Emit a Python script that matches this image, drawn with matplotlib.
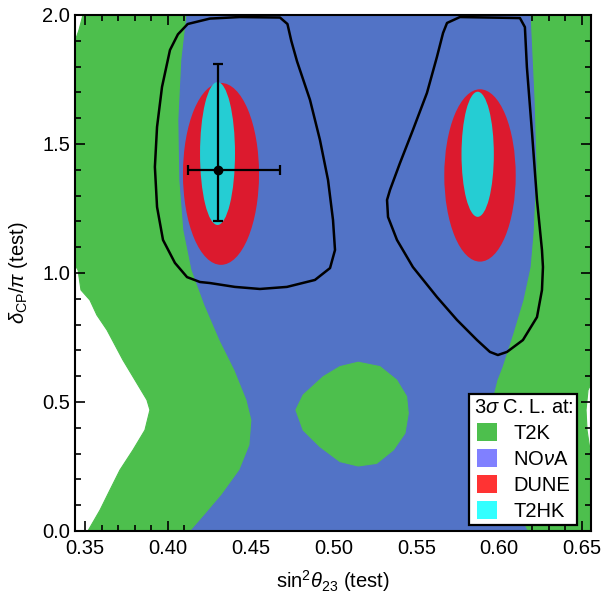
import matplotlib
matplotlib.use('Agg')
import matplotlib.pyplot as plt
from matplotlib.patches import Polygon, Ellipse, Patch
from matplotlib.ticker import MultipleLocator

plt.rcParams['font.family'] = ['Liberation Sans', 'DejaVu Sans']
plt.rcParams['mathtext.fontset'] = 'custom'
plt.rcParams['mathtext.rm'] = 'Liberation Sans'
plt.rcParams['mathtext.it'] = 'Liberation Sans:italic'

# T2K region (left edge curve, the right side runs off the axes)
t2k_x = [0.3488, 0.3464, 0.3430, 0.3430, 0.3458, 0.3476, 0.3530, 0.3572, 0.3633, 0.3729,
         0.3802, 0.3874, 0.3892, 0.3862, 0.3790, 0.3711, 0.3651, 0.3591, 0.3518,
         0.6600, 0.6600, 0.6548, 0.6530, 0.6524, 0.6536, 0.6600, 0.6600]
t2k_y = [2.000, 1.942, 1.880, 1.040, 1.012, 0.934, 0.895, 0.837, 0.779, 0.663,
         0.585, 0.508, 0.469, 0.391, 0.314, 0.236, 0.159, 0.081, 0.000,
         0.000, 0.275, 0.314, 0.391, 0.469, 0.546, 0.632, 2.000]

# NOvA region
nova_x = [0.4116, 0.4085, 0.4067, 0.4073, 0.4097, 0.4146, 0.4224, 0.4315, 0.4405, 0.4478,
          0.4508, 0.4496, 0.4435, 0.4327, 0.4224, 0.4140,
          0.6168, 0.6077, 0.5992, 0.5956, 0.5986, 0.6017, 0.6083, 0.6143, 0.6186, 0.6204,
          0.6222, 0.6210, 0.6186]
nova_y = [2.000, 1.826, 1.593, 1.360, 1.167, 1.012, 0.876, 0.740, 0.624, 0.508,
          0.430, 0.333, 0.236, 0.140, 0.062, 0.000,
          0.000, 0.120, 0.314, 0.508, 0.585, 0.636, 0.767, 0.895, 1.023, 1.155,
          1.411, 1.671, 2.000]

# T2K island inside the NOvA region
island_x = [0.5149, 0.5280, 0.5381, 0.5441, 0.5451, 0.5431, 0.5361, 0.5260, 0.5149, 0.5039,
            0.4918, 0.4817, 0.4773, 0.4817, 0.4938, 0.5039]
island_y = [0.654, 0.637, 0.585, 0.521, 0.456, 0.379, 0.314, 0.262, 0.252, 0.269,
            0.327, 0.391, 0.469, 0.527, 0.598, 0.637]

# DUNE and T2HK allowed islands (centre, width, height)
dune_cx = [0.4321, 0.5884]
dune_cy = [1.384, 1.378]
dune_w = [0.0459, 0.0431]
dune_h = [0.705, 0.668]
t2hk_cx = [0.4300, 0.5870]
t2hk_cy = [1.463, 1.460]
t2hk_w = [0.0211, 0.0195]
t2hk_h = [0.554, 0.485]

# black contours
left_x = [0.4677, 0.4722, 0.4745, 0.4780, 0.4858, 0.4918, 0.4967, 0.4997, 0.5009, 0.4979,
          0.4888, 0.4719, 0.4556, 0.4405, 0.4254, 0.4194, 0.4116, 0.4043, 0.3971, 0.3935,
          0.3922, 0.3935, 0.3965, 0.4013, 0.4061, 0.4120, 0.4254, 0.4435]
left_y = [1.990, 1.965, 1.900, 1.820, 1.671, 1.516, 1.360, 1.205, 1.089, 1.019,
          0.973, 0.946, 0.938, 0.946, 0.961, 0.965, 0.984, 1.039, 1.128, 1.256,
          1.411, 1.566, 1.721, 1.864, 1.925, 1.965, 1.986, 1.992]
right_x = [0.5685, 0.5763, 0.6125, 0.6155, 0.6167, 0.6198, 0.6228, 0.6258, 0.6264, 0.6258,
           0.6228, 0.6143, 0.6047, 0.5992, 0.5944, 0.5866, 0.5745, 0.5624, 0.5479, 0.5383,
           0.5329, 0.5323, 0.5341, 0.5401, 0.5479, 0.5564, 0.5624, 0.5661]
right_y = [1.969, 1.992, 1.988, 1.953, 1.798, 1.543, 1.283, 1.089, 1.023, 0.934,
           0.829, 0.740, 0.694, 0.682, 0.694, 0.740, 0.818, 0.907, 1.023, 1.128,
           1.217, 1.283, 1.322, 1.426, 1.554, 1.698, 1.837, 1.930]

# true point with errors
true_x, true_y = 0.430, 1.40
xerr = [[0.018], [0.038]]
yerr = [[0.20], [0.41]]

c_green = '#4dbf4d'
c_blue = '#5273c6'
c_red = '#dc1a2e'
c_cyan = '#25cdd3'

fig = plt.figure(figsize=(6.04, 5.94), dpi=100)
ax = fig.add_axes([0.1242, 0.1061, 0.8543, 0.8687])

def region(xs, ys, color, z):
    ax.add_patch(Polygon(list(zip(xs, ys)), closed=True, fc=color, ec=color,
                         lw=0.8, joinstyle='round', zorder=z))

region(t2k_x, t2k_y, c_green, 1)
region(nova_x, nova_y, c_blue, 2)
region(island_x, island_y, c_green, 3)
for cx, cy, w, h in zip(dune_cx, dune_cy, dune_w, dune_h):
    ax.add_patch(Ellipse((cx, cy), w, h, fc=c_red, ec='none', zorder=4))
for cx, cy, w, h in zip(t2hk_cx, t2hk_cy, t2hk_w, t2hk_h):
    ax.add_patch(Ellipse((cx, cy), w, h, fc=c_cyan, ec='none', zorder=5))

ax.fill(left_x, left_y, fill=False, ec='black', lw=1.8, joinstyle='round', zorder=6)
ax.fill(right_x, right_y, fill=False, ec='black', lw=1.8, joinstyle='round', zorder=6)

ax.errorbar([true_x], [true_y], xerr=xerr, yerr=yerr, fmt='o', color='black', ms=6,
            elinewidth=1.6, capsize=3.5, capthick=1.6, zorder=7)

ax.set_xlim(0.344, 0.6554)
ax.set_ylim(0, 2)
ax.xaxis.set_major_locator(MultipleLocator(0.05))
ax.xaxis.set_minor_locator(MultipleLocator(0.01))
ax.yaxis.set_major_locator(MultipleLocator(0.5))
ax.yaxis.set_minor_locator(MultipleLocator(0.1))
ax.xaxis.set_major_formatter(plt.FormatStrFormatter('%.2f'))
ax.yaxis.set_major_formatter(plt.FormatStrFormatter('%.1f'))
ax.tick_params(which='both', direction='in', top=True, right=True, labelsize=14.5, width=1.2)
ax.tick_params(which='major', length=7)
ax.tick_params(which='minor', length=4)
ax.tick_params(axis='x', pad=6)
for s in ax.spines.values():
    s.set_linewidth(1.5)
    s.set_zorder(10)

ax.set_xlabel(r'sin$^2\theta_{23}$ (test)', fontsize=14.5, labelpad=7)
ax.set_ylabel(r'$\delta_{\rm CP}/\pi$ (test)', fontsize=14.5, labelpad=9)

handles = [Patch(fc='#4dbf4d', ec='none', label='T2K'),
           Patch(fc='#8080ff', ec='none', label=r'NO$\nu$A'),
           Patch(fc='#ff3333', ec='none', label='DUNE'),
           Patch(fc='#33ffff', ec='none', label='T2HK')]
leg = ax.legend(handles=handles, title=r'3$\sigma$ C. L. at:', loc='lower right',
                bbox_to_anchor=(0.973, 0.0116), borderaxespad=0, fontsize=14.5,
                title_fontsize=14.5, fancybox=False, framealpha=1, edgecolor='black',
                handlelength=1.0, handleheight=1.0, labelspacing=0.3, borderpad=0.2,
                handletextpad=0.8)
leg.get_frame().set_linewidth(1.6)
leg.set_zorder(20)

fig.savefig('out.png', dpi=100)
